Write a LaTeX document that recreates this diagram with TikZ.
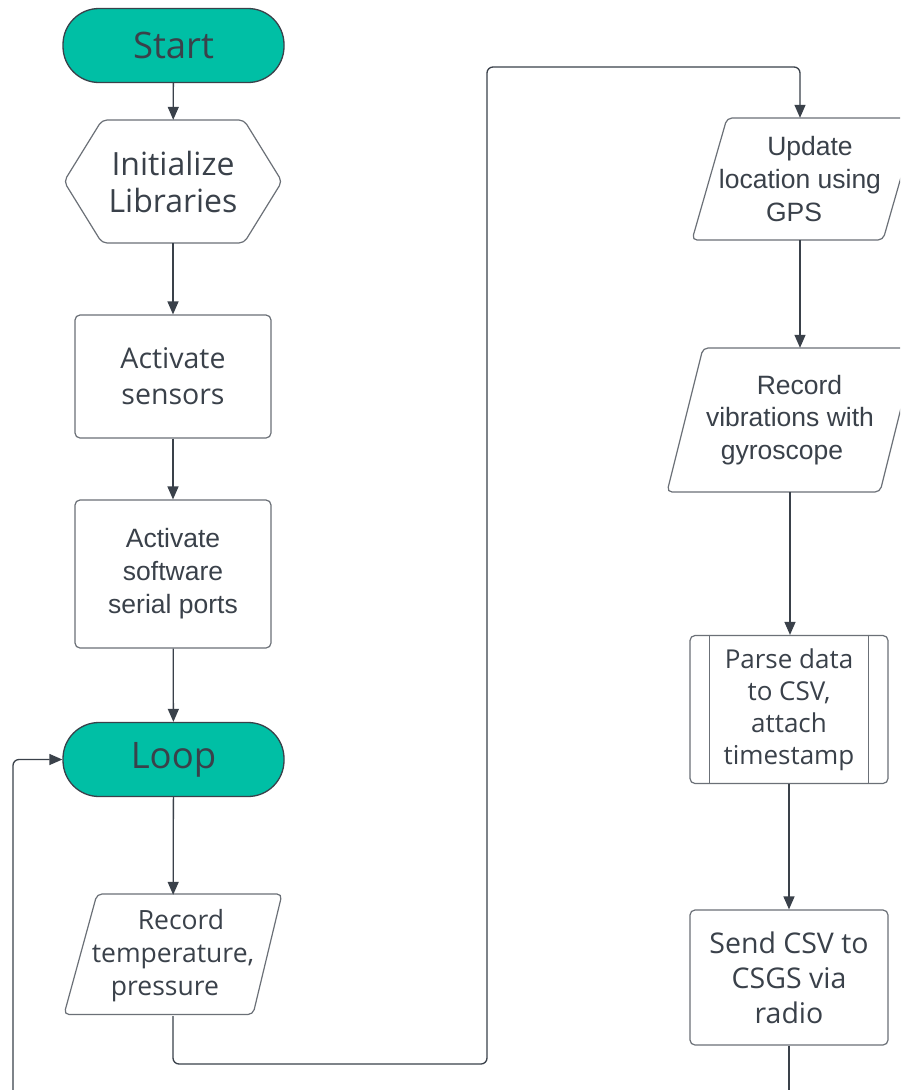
\documentclass[tikz,border=0pt]{standalone}
\usepackage{fontspec}
\setmainfont{Open Sans}
\newfontfamily\arialf{Liberation Sans}
\usetikzlibrary{arrows.meta}
\definecolor{tealfill}{HTML}{00BFA5}
\definecolor{ink}{HTML}{3A414A}
\definecolor{edgegray}{HTML}{6B7077}
\begin{document}
\begin{tikzpicture}[x=1pt,y=-1pt,
  term/.style={draw=ink, line width=1.3pt, fill=tealfill, rounded corners=36pt,
    minimum width=221pt, minimum height=74pt, text=ink, inner sep=0pt,
    font=\fontsize{36.5}{40}\selectfont},
  lbl/.style={text=ink, align=center, inner sep=0pt},
  boxed/.style={lbl, draw=edgegray, line width=1.2pt, rounded corners=5pt},
  shapeline/.style={draw=edgegray, line width=1.2pt, rounded corners=5pt},
  conn/.style={draw=ink, line width=1.3pt, -{Triangle[length=13pt,width=11pt]}, rounded corners=6pt},
  plain/.style={draw=ink, line width=1.3pt, rounded corners=6pt}]
\useasboundingbox (0,0) rectangle (900,1090);
\clip (0,0) rectangle (900,1090);
\fill[white] (0,0) rectangle (900,1090);

% left column
\node[term] (start) at (173.5,45.5) {Start};

\node[lbl, minimum width=218pt, minimum height=123pt, font=\fontsize{32}{37}\selectfont]
  (init) at (173,181.5) {Initialize\\Libraries};
\draw[shapeline] (64,181.5) -- (102,120) -- (244,120) -- (282,181.5) -- (244,243) -- (102,243) -- cycle;

\node[boxed, minimum width=196pt, minimum height=123pt, font=\fontsize{28.5}{36}\selectfont]
  (act1) at (173,376.5) {Activate\\sensors};

\node[boxed, minimum width=196pt, minimum height=148pt, font=\arialf\fontsize{26.5}{33}\selectfont]
  (act2) at (173,574) {Activate\\software\\serial ports};

\node[term] (loop) at (173.5,759.5) {Loop};

\node[lbl, minimum width=190pt, minimum height=121pt, font=\fontsize{26.5}{33}\selectfont]
  (rec) at (173,955.5) {\hspace*{16pt}Record\\temperature,\\pressure\hspace*{16pt}};
\draw[shapeline] (97,894) -- (282,894) -- (253,1014.5) -- (64,1014.5) -- cycle;

% right column
\node[lbl, minimum width=190pt, minimum height=122pt, font=\arialf\fontsize{26.5}{33}\selectfont]
  (upd) at (800,179) {\hspace*{20pt}Update\\location using\\GPS\hspace*{12pt}};
\draw[shapeline] (727,118) -- (918,118) -- (883,240) -- (692,240) -- cycle;

\node[lbl, minimum width=210pt, minimum height=144pt, font=\arialf\fontsize{26.5}{32.5}\selectfont]
  (vib) at (790,420) {\hspace*{19pt}Record\\vibrations with\\gyroscope\hspace*{16pt}};
\draw[shapeline] (703,348) -- (916,348) -- (880,492) -- (667,492) -- cycle;

\node[boxed, minimum width=198pt, minimum height=148pt, font=\fontsize{26}{32}\selectfont]
  (parse) at (789,709.5) {Parse data\\to CSV,\\attach\\timestamp};
\draw[shapeline] ([xshift=20pt]parse.north west) -- ([xshift=20pt]parse.south west);
\draw[shapeline] ([xshift=-20pt]parse.north east) -- ([xshift=-20pt]parse.south east);

\node[boxed, minimum width=198pt, minimum height=135pt, font=\fontsize{28.5}{35}\selectfont]
  (send) at (789,977.5) {Send CSV to\\CSGS via\\radio};

% connectors
\draw[conn] (start) -- (init);
\draw[conn] (init) -- (act1);
\draw[conn] (act1) -- (act2);
\draw[conn] (act2) -- (loop);
\draw[conn] (loop) -- (rec);
\coordinate (fbstart) at (13,1100);
\draw[conn] (fbstart) |- (loop.west);
\coordinate (lowturn) at (487,1064);
\coordinate (highturn) at (487,67);
\draw[conn] (rec.south) |- (lowturn) -- (highturn) -| (upd.north);
\draw[conn] (upd.south) -- (upd.south |- vib.north);
\draw[conn] (vib.south) -- (vib.south |- parse.north);
\draw[conn] (parse.south) -- (send.north);
\coordinate (sendend) at (789,1100);
\draw[plain] (send.south) -- (sendend);
\end{tikzpicture}
\end{document}
